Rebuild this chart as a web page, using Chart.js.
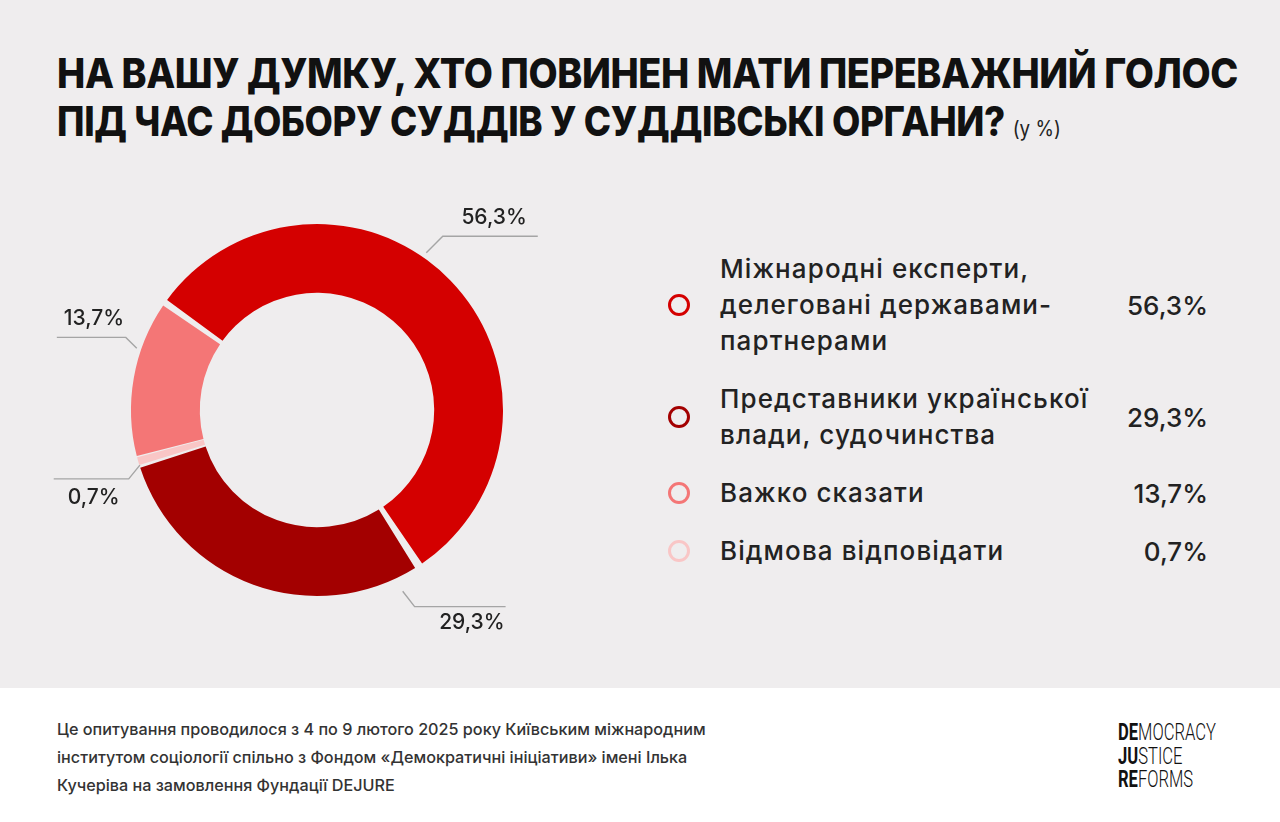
<!DOCTYPE html>
<html><head><meta charset="utf-8">
<script src="https://cdn.jsdelivr.net/npm/chart.js@4.4.1/dist/chart.umd.min.js"></script>
<style>
body{margin:0;width:1280px;height:822px;overflow:hidden;font-family:Inter,"Noto Sans",sans-serif;background:#fff}
#top{position:absolute;left:0;top:0;width:1280px;height:688px;background:#efedee}
#foot{position:absolute;left:0;top:688px;width:1280px;height:134px;background:#fff}
.tl{position:absolute;left:57px;font-weight:800;font-size:41px;line-height:47px;color:#111;letter-spacing:-0.4px;white-space:nowrap;transform-origin:left top}
.tl small{font-size:21px;font-weight:400;letter-spacing:0;color:#222}
#chartWrap{position:absolute;left:0;top:160px;width:640px;height:500px}
#legend{position:absolute;left:668px;top:251px;width:540px}
.item{display:flex;align-items:center;margin-bottom:22px}
.dot{width:16px;height:16px;border:3.5px solid;border-radius:50%;flex:none;margin-right:30px}
.lab{font-size:26px;line-height:36px;font-weight:500;color:#222;flex:1;letter-spacing:1.1px}
.val{font-size:26px;font-weight:500;color:#222}
#note{position:absolute;left:57px;top:715px;font-size:16.2px;line-height:28px;font-weight:500;color:#333}
#logo{position:absolute;left:1118px;top:721px;font-family:Roboto,sans-serif;font-size:24px;line-height:23.5px;color:#111;transform:scaleX(0.69);transform-origin:left top;white-space:nowrap}
#logo b{font-weight:700}#logo span{font-weight:300}
</style></head>
<body>
<div id="top"></div><div id="foot"></div>
<div class="tl" id="l1" style="top:50px"><span id="t1">НА ВАШУ ДУМКУ, ХТО ПОВИНЕН МАТИ ПЕРЕВАЖНИЙ ГОЛОС</span></div>
<div class="tl" id="l2" style="top:98px"><span id="t2">ПІД ЧАС ДОБОРУ СУДДІВ У СУДДІВСЬКІ ОРГАНИ?</span> <small>(у %)</small></div>
<div id="chartWrap"><canvas id="c" width="640" height="500"></canvas></div>
<div id="legend"></div>
<div id="note">Це опитування проводилося з 4 по 9 лютого 2025 року Київським міжнародним<br>інститутом соціології спільно з Фондом «Демократичні ініціативи» імені Ілька<br>Кучеріва на замовлення Фундації DEJURE</div>
<div id="logo"><b>DE</b><span>MOCRACY</span><br><b>JU</b><span>STICE</span><br><b>RE</b><span>FORMS</span></div>
<script>
const categories = [
  ["Міжнародні експерти,", "делеговані державами-", "партнерами"],
  ["Представники української", "влади, судочинства"],
  ["Важко сказати"],
  ["Відмова відповідати"]
];
const values = [56.3, 29.3, 13.7, 0.7];
const valueLabels = ["56,3%", "29,3%", "13,7%", "0,7%"];
const colors = ["#d40000", "#a30000", "#f47676", "#f9c6c6"];
const drawOrder = [0, 1, 3, 2];

// fit title lines to reference widths
[['t1', 'l1', 1181], ['t2', 'l2', 948]].forEach(([t, l, w]) => {
  const s = w / document.getElementById(t).getBoundingClientRect().width;
  document.getElementById(l).style.transform = 'scaleX(' + s + ')';
});

// legend (HTML) built from arrays
const leg = document.getElementById('legend');
categories.forEach((c, i) => {
  const d = document.createElement('div'); d.className = 'item';
  d.innerHTML = '<div class="dot" style="border-color:' + colors[i] + '"></div><div class="lab">' + c.join('<br>') + '</div><div class="val">' + valueLabels[i] + '</div>';
  leg.appendChild(d);
});

// leader layout per legend index: angles in degrees clockwise from top, offsets beyond outer radius
const leaders = [
  {a1: 34.8, o1: 8, a2: 35.9, o2: 31, h: 95, tx: -11, ty: -19, align: 'right'},
  {a1: 154.7, o1: 17, a2: 153.6, o2: 36, h: 91, tx: -1, ty: 16, align: 'right'},
  {a1: 288.9, o1: 7, a2: 290.8, o2: 21, h: -69, tx: 7, ty: -19, align: 'left'},
  {a1: 252.7, o1: 2, a2: 249.9, o2: 17, h: -75, tx: 14, ty: 19, align: 'left'}
];

const leaderPlugin = {
  id: 'leaders',
  afterDraw(chart) {
    const ctx = chart.ctx;
    const arc = chart.getDatasetMeta(0).data[0];
    const cx = arc.x, cy = arc.y, R = arc.outerRadius;
    const pt = (a, r) => [cx + r * Math.sin(a * Math.PI / 180), cy - r * Math.cos(a * Math.PI / 180)];
    ctx.save();
    drawOrder.forEach((li) => {
      const L = leaders[li];
      const p1 = pt(L.a1, R + L.o1), p2 = pt(L.a2, R + L.o2);
      const p3 = [p2[0] + L.h, p2[1]];
      ctx.strokeStyle = '#a5a5a5'; ctx.lineWidth = 1.4;
      ctx.beginPath(); ctx.moveTo(p1[0], p1[1]); ctx.lineTo(p2[0], p2[1]); ctx.lineTo(p3[0], p3[1]); ctx.stroke();
      ctx.fillStyle = '#222'; ctx.font = '500 21px Inter, sans-serif';
      ctx.textAlign = L.align; ctx.textBaseline = 'middle';
      ctx.fillText(valueLabels[li], p3[0] + L.tx, p3[1] + L.ty);
    });
    ctx.restore();
  }
};

new Chart(document.getElementById('c'), {
  type: 'doughnut',
  data: {
    labels: drawOrder.map(i => categories[i]),
    datasets: [{
      data: drawOrder.map(i => values[i]),
      backgroundColor: drawOrder.map(i => colors[i]),
      borderWidth: 0,
      spacing: 5
    }]
  },
  options: {
    responsive: false,
    animation: false,
    rotation: -55.4,
    cutout: '62.5%',
    layout: {padding: {left: 131, right: 137, top: 64, bottom: 64}},
    plugins: {legend: {display: false}, tooltip: {enabled: false}}
  },
  plugins: [leaderPlugin]
});
</script>
</body></html>
